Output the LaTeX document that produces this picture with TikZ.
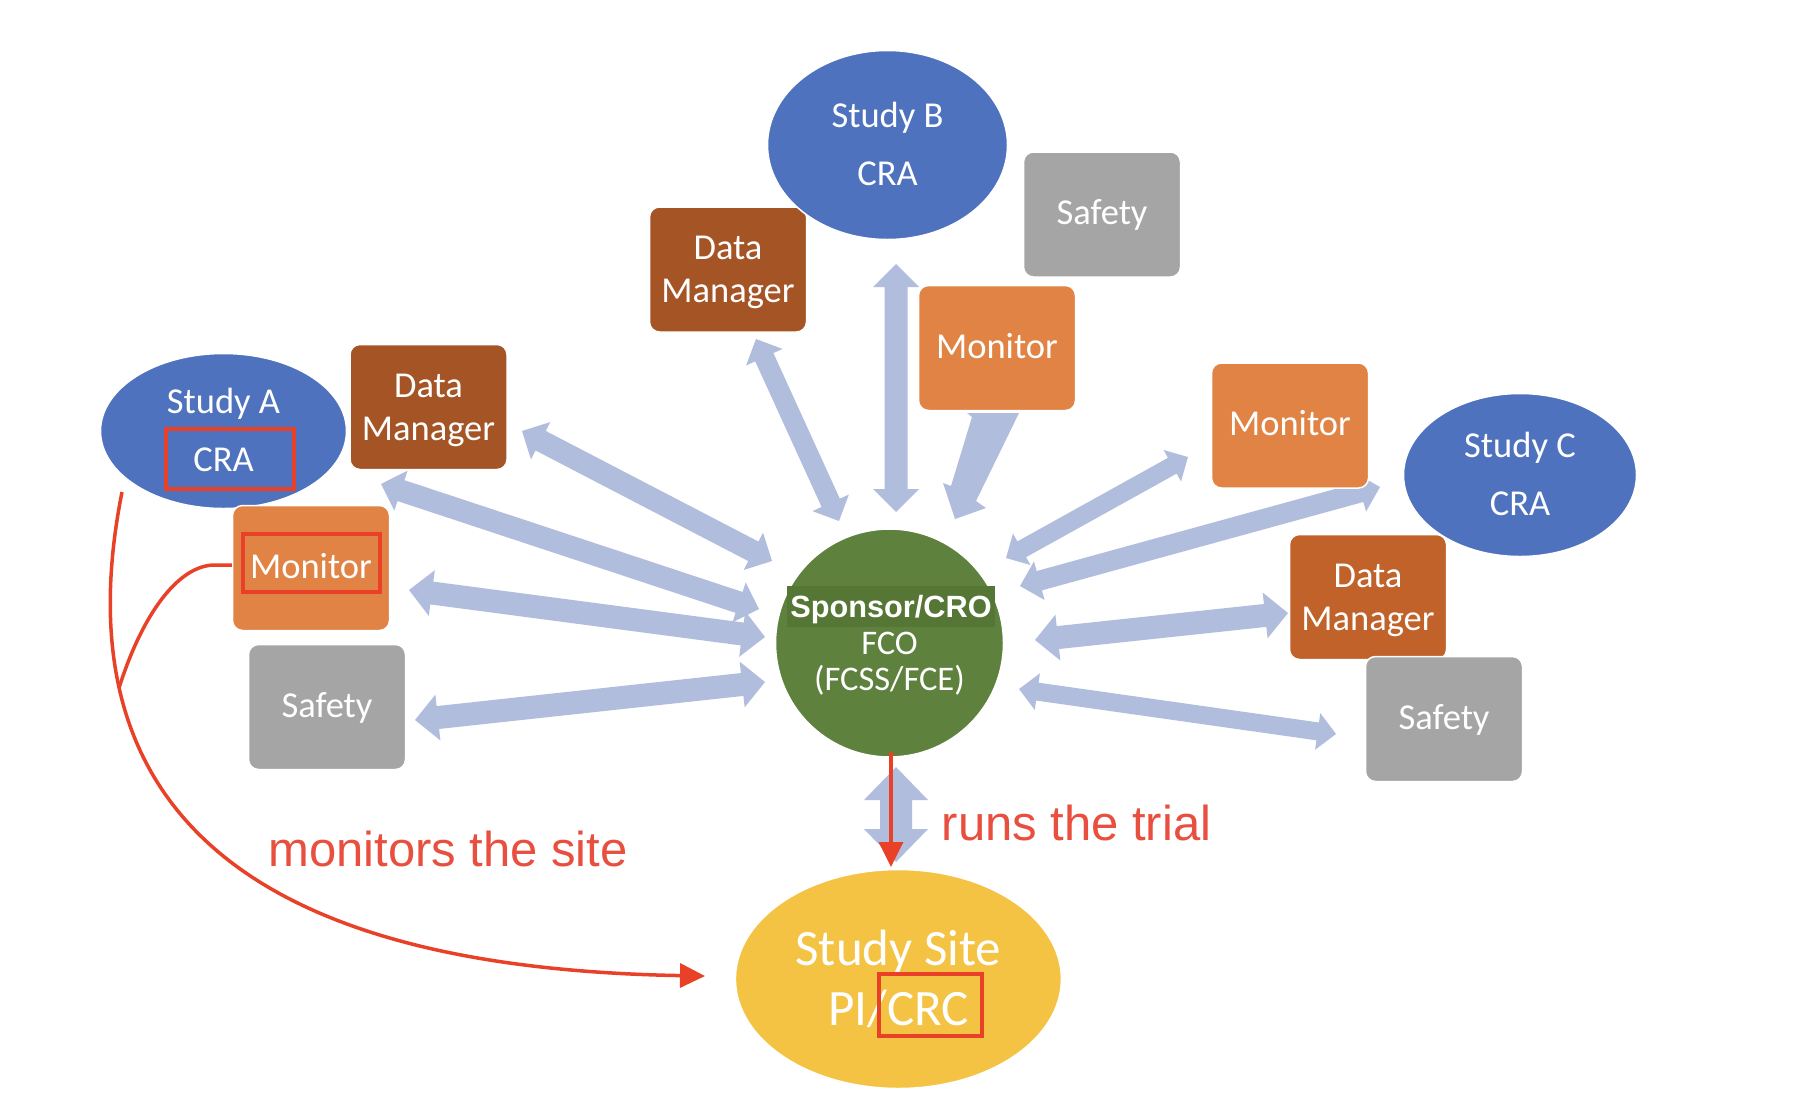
\documentclass[tikz,border=0pt]{standalone}
\usepackage{fontspec}
\setmainfont{Carlito}
\newfontfamily\arialf{Liberation Sans}
\usetikzlibrary{calc,arrows.meta,shapes.geometric}
\definecolor{blueE}{RGB}{79,114,190}
\definecolor{brownA}{RGB}{165,84,37}
\definecolor{brownC}{RGB}{192,98,42}
\definecolor{orangeM}{RGB}{224,131,68}
\definecolor{greyS}{RGB}{165,165,165}
\definecolor{greenS}{RGB}{95,129,62}
\definecolor{greenD}{RGB}{85,118,52}
\definecolor{yellowS}{RGB}{245,195,68}
\definecolor{arrowC}{RGB}{177,189,221}
\definecolor{redC}{RGB}{232,65,40}
\definecolor{redT}{RGB}{233,79,62}
% #1 from, #2 to, #3 half shaft width, #4 half head width, #5 head length
\newcommand{\dblarrow}[5]{%
  \coordinate (dbA) at ($(#1)!#5!(#2)$);
  \coordinate (dbB) at ($(#2)!#5!(#1)$);
  \fill[arrowfill] (#1) -- ($(dbA)!#4!90:(#2)$) -- ($(dbA)!#3!90:(#2)$)
    -- ($(dbB)!#3!-90:(#1)$) -- ($(dbB)!#4!-90:(#1)$) -- (#2)
    -- ($(dbB)!#4!90:(#1)$) -- ($(dbB)!#3!90:(#1)$)
    -- ($(dbA)!#3!-90:(#2)$) -- ($(dbA)!#4!-90:(#2)$) -- cycle;
}
\newcommand{\uptop}{\rule{0pt}{30pt}}
\newcommand{\downbot}{\rule[-2pt]{0pt}{2pt}}
\tikzset{
  shapebase/.style={draw=white, line width=1.5pt, inner sep=0pt, text=white, align=center},
  boxnode/.style={shapebase, rectangle, rounded corners=10pt, minimum width=157pt, minimum height=125pt, font=\fontsize{36.5}{43}\selectfont},
  onebox/.style={boxnode, text height=20pt, text depth=0pt},
  dmbox/.style={boxnode, fill=brownA},
  dmcbox/.style={boxnode, fill=brownC},
  monbox/.style={onebox, fill=orangeM},
  safbox/.style={onebox, fill=greyS},
  studyell/.style={shapebase, ellipse, fill=blueE, font=\fontsize{36.5}{58}\selectfont},
  arrowfill/.style={fill=arrowC},
  redline/.style={draw=redC, line width=3.5pt},
  redbox/.style={draw=redC, line width=4pt, rectangle, inner sep=0pt},
  redlabel/.style={text=redT, font=\arialf\fontsize{49}{58}\selectfont, inner sep=0pt, anchor=base},
  redtip/.style={-{Triangle[length=25pt,width=24pt]}},
  spontext/.style={text=white, font=\fontsize{34.5}{37}\selectfont, inner sep=0pt, anchor=base},
}
\begin{document}
\begin{tikzpicture}[x=1pt,y=-1pt]
\fill[white] (0,0) rectangle (1798,1112);
\useasboundingbox (0,0) rectangle (1798,1112);

% arrow end points
\coordinate (a1s) at (522,431);   \coordinate (a1e) at (772,561);
\coordinate (a2s) at (381,484);   \coordinate (a2e) at (759,609);
\coordinate (a3s) at (409,590);   \coordinate (a3e) at (765,637);
\coordinate (a4s) at (415,720);   \coordinate (a4e) at (765,682);
\coordinate (a5s) at (756,339);   \coordinate (a5e) at (839,521);
\coordinate (a6s) at (896,264);   \coordinate (a6e) at (896,512);
\coordinate (a8s) at (1188,457);  \coordinate (a8e) at (1006,558);
\coordinate (a9s) at (1380,487);  \coordinate (a9e) at (1020,586);
\coordinate (a10s) at (1035,640); \coordinate (a10e) at (1288,613);
\coordinate (a11s) at (1019,689); \coordinate (a11e) at (1336,734);
\coordinate (a12s) at (896,767);  \coordinate (a12e) at (896,862);

\dblarrow{a1s}{a1e}{11pt}{21pt}{21pt}
\dblarrow{a2s}{a2e}{11pt}{21pt}{21pt}
\dblarrow{a3s}{a3e}{11.5pt}{23pt}{23pt}
\dblarrow{a4s}{a4e}{11.5pt}{23pt}{23pt}
\dblarrow{a5s}{a5e}{10pt}{20pt}{20pt}
\dblarrow{a6s}{a6e}{11.5pt}{23pt}{23pt}
\dblarrow{a8s}{a8e}{9pt}{18pt}{18pt}
\dblarrow{a9s}{a9e}{10pt}{20pt}{20pt}
\dblarrow{a10s}{a10e}{11.5pt}{23pt}{23pt}
\dblarrow{a11s}{a11e}{9pt}{18.5pt}{18.5pt}
\dblarrow{a12s}{a12e}{16pt}{32pt}{33pt}
% tapered arrow under Monitor B
\fill[arrowfill] (967,413) -- (1019,413) -- (976,501) -- (986,508) -- (955,519)
  -- (943,483) -- (951,486) -- (972,417) -- cycle;

% Study A group
\node[studyell, minimum width=246pt, minimum height=155pt] (stA) at (223.5,431) {Study A\\CRA\downbot};
\node[dmbox] (dmA) at (428.5,407) {\uptop Data\\Manager};
\node[monbox] (monA) at (311,568) {Monitor};
\node[safbox] (safA) at (327,707) {Safety};
% Study B group
\node[dmbox] (dmB) at (728,269.5) {\uptop Data\\Manager};
\node[studyell, minimum width=240pt, minimum height=189pt] (stB) at (887.5,145) {Study B\\CRA\downbot};
\node[safbox] (safB) at (1102,214.5) {Safety};
\node[monbox] (monB) at (997,348) {Monitor};
% Study C group
\node[monbox] (monC) at (1290,425.5) {Monitor};
\node[studyell, minimum width=233pt, minimum height=163pt] (stC) at (1520,475) {Study C\\CRA\downbot};
\node[dmcbox] (dmC) at (1368,597) {\uptop Data\\Manager};
\node[safbox] (safC) at (1444,719) {Safety};
% Sponsor
\node[shapebase, circle, fill=greenS, minimum size=228pt] (spon) at (889.5,643) {};
\node[fill=greenD, text=white, font=\arialf\bfseries\fontsize{30.7}{36}\selectfont,
      inner xsep=3.5pt, inner ysep=0pt, text height=31.5pt, text depth=9.5pt, anchor=base]
      (sponT) at (891,617.2) {Sponsor/CRO};
\node[spontext] (sponF1) at (889.5,654) {FCO};
\node[spontext] (sponF2) at (889.5,690.5) {(FCSS/FCE)};
% Study site
\node[shapebase, ellipse, fill=yellowS, minimum width=326pt, minimum height=219pt,
      font=\fontsize{51}{60}\selectfont] (site) at (898.4,979) {Study Site\\PI/CRC};

% red highlight boxes
\node[redbox, minimum width=128pt, minimum height=60pt] (bxA) at (229.7,458.7) {};
\node[redbox, minimum width=137pt, minimum height=58pt] (bxM) at (311.4,562.5) {};
\node[redbox, minimum width=103pt, minimum height=62.6pt] (bxC) at (930.4,1005) {};

% red connectors
\coordinate (mStart) at (122,492);
\coordinate (mEnd) at (705,976);
\coordinate (mJoin) at (119,688);
\draw[redline, redtip] (mStart) .. controls (45,880) and (360,970) .. (mEnd);
\draw[redline] ($(monA.west)+(0,-3)$) -- ++(-17,0) .. controls (178,565) and (142,615) .. (mJoin);
\coordinate (rStart) at (891,752);
\coordinate (rEnd) at (891,867);
\draw[redline, redtip] (rStart) -- (rEnd);

\node[redlabel] (runsT) at (1076.5,840) {runs the trial};
\node[redlabel] (monT) at (448,866) {monitors the site};
\end{tikzpicture}
\end{document}
